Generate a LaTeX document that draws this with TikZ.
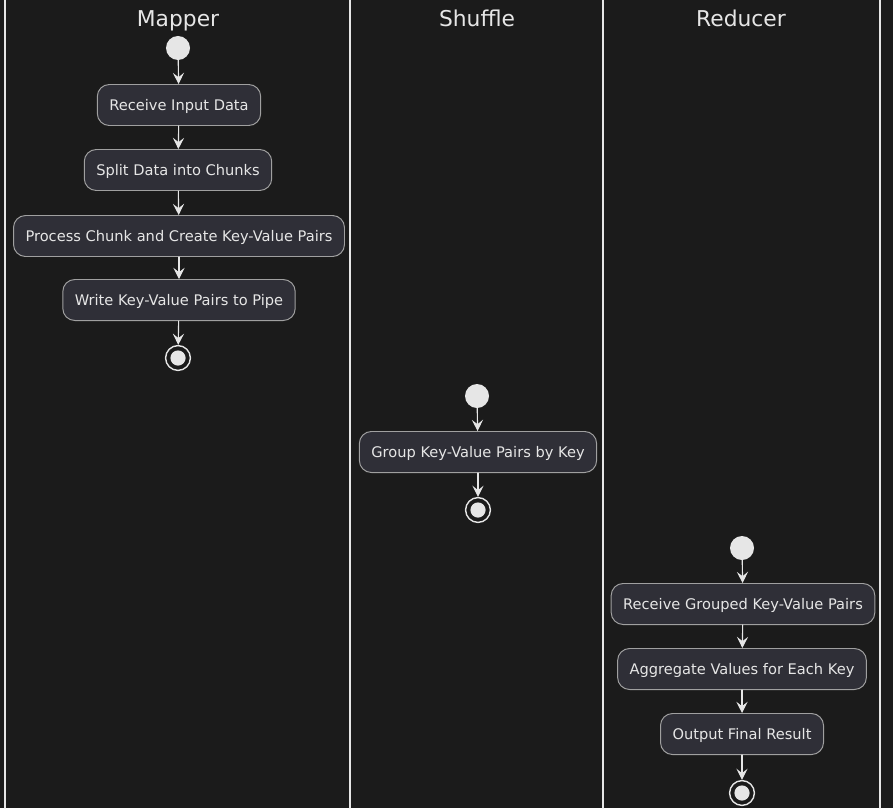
\documentclass[tikz,border=0pt]{standalone}
\usepackage{fontspec}
\setmainfont{DejaVu Sans}
\usetikzlibrary{arrows.meta}
\definecolor{lanebg}{HTML}{1B1B1B}
\definecolor{boxfill}{HTML}{2F2F37}
\definecolor{boxline}{HTML}{A0A0A0}
\definecolor{ink}{HTML}{E6E6E6}

\begin{document}
\begin{tikzpicture}[x=0.025cm,y=-0.025cm,>={Stealth[length=2.8mm,width=2.8mm,inset=1.1mm]},
  font=\fontsize{10.4}{12}\selectfont,line cap=round,
  act/.style={draw=boxline,fill=boxfill,text=ink,line width=0.7pt,rounded corners=0.3cm,
    minimum height=1.025cm,inner xsep=0.3cm,text height=0.9em,text depth=0.1em},
  startnode/.style={circle,fill=ink,minimum size=0.6cm,inner sep=0pt},
  endnode/.style={circle,draw=ink,line width=1pt,minimum size=0.62cm,inner sep=0pt,
    path picture={\fill[ink] (path picture bounding box.center) circle (0.19cm);}},
  lanetitle/.style={font=\fontsize{15.5}{18}\selectfont,text=ink,text height=0.73em,text depth=0.22em},
  flow/.style={->,draw=ink,line width=0.8pt}]
\fill[lanebg] (0,0) rectangle (893,808);
\useasboundingbox (0,0) rectangle (893,808);
% swimlanes
\foreach \x in {5,350,603,880}
  \draw[ink,line width=1.1pt] (\x,0) -- (\x,808);
\node[lanetitle] (tMap) at (178,23) {Mapper};
\node[lanetitle] (tShu) at (477,23) {Shuffle};
\node[lanetitle] (tRed) at (741,23) {Reducer};
% mapper
\node[startnode] (mStart) at (178,48) {};
\node[act] (mRecv) at (179,105) {Receive Input Data};
\node[act] (mSplit) at (178,170) {Split Data into Chunks};
\node[act] (mProc) at (179,236) {Process Chunk and Create Key-Value Pairs};
\node[act] (mWrite) at (179,300) {Write Key-Value Pairs to Pipe};
\node[endnode] (mEnd) at (178,358) {};
\draw[flow] (mStart) -- (mRecv);
\draw[flow] (mRecv) -- (mSplit);
\draw[flow] (mSplit) -- (mProc);
\draw[flow] (mProc) -- (mWrite);
\draw[flow] (mWrite) -- (mEnd);
% shuffle
\node[startnode] (sStart) at (477,396) {};
\node[act] (sGroup) at (478,452) {Group Key-Value Pairs by Key};
\node[endnode] (sEnd) at (478,510) {};
\draw[flow] (sStart) -- (sGroup);
\draw[flow] (sGroup) -- (sEnd);
% reducer
\node[startnode] (rStart) at (742,548) {};
\node[act] (rRecv) at (743,604) {Receive Grouped Key-Value Pairs};
\node[act] (rAgg) at (742,669) {Aggregate Values for Each Key};
\node[act] (rOut) at (742,734) {Output Final Result};
\node[endnode] (rEnd) at (742,793) {};
\draw[flow] (rStart) -- (rRecv);
\draw[flow] (rRecv) -- (rAgg);
\draw[flow] (rAgg) -- (rOut);
\draw[flow] (rOut) -- (rEnd);
\end{tikzpicture}
\end{document}
